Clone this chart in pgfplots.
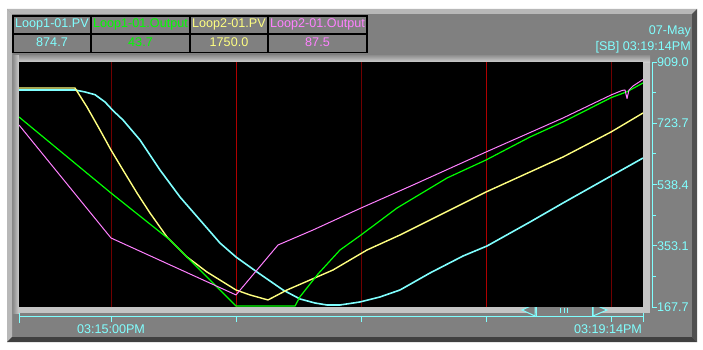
\documentclass[border=0pt]{standalone}
\usepackage{fontspec}
\setmainfont{Liberation Sans}
\usepackage{pgfplots}
\pgfplotsset{compat=1.18}
\definecolor{cy}{HTML}{80FFFF}
\definecolor{gr}{HTML}{00FF00}
\definecolor{ye}{HTML}{FFFF80}
\definecolor{mg}{HTML}{FF80FF}
\definecolor{pan}{HTML}{808080}
\definecolor{lite}{HTML}{B8B8B8}
\definecolor{lite2}{HTML}{C4C4C4}
\definecolor{dark}{HTML}{404040}
\definecolor{dark2}{HTML}{505050}
\definecolor{gridd}{HTML}{700000}
\definecolor{gridr}{HTML}{B00000}
\begin{document}
\begin{tikzpicture}[x=1pt,y=1pt]
\useasboundingbox (0,0) rectangle (703,349);
\fill[white] (0,0) rectangle (703,349);
\begin{scope}[yshift=349pt,yscale=-1]
  % outer panel with bevel
  \fill[pan] (7,9) rectangle (697,342);
  \fill[lite] (7,9) -- (697,9) -- (692,14) -- (12,14) -- cycle;
  \fill[lite] (7,9) -- (12,14) -- (12,337) -- (7,342) -- cycle;
  \fill[dark] (7,342) -- (12,337) -- (692,337) -- (697,342) -- cycle;
  \fill[dark2] (697,9) -- (692,14) -- (692,337) -- (697,342) -- cycle;
  % inner plot frame bevel
  \fill[lite2] (13,55) rectangle (650,313);
  \shade[left color=pan!90!white, right color=lite!70!white] (13,55) rectangle (19,313);
  \shade[top color=pan!90!white, bottom color=lite!70!white] (19,55) rectangle (650,62);
  % table
  \draw[black, line width=1.5pt] (13,16) rectangle (367,52.5);
  \draw[black, line width=1.5pt] (13,34) -- (367,34);
  \foreach \xx in {91,190,268} \draw[black, line width=1.5pt] (\xx,16) -- (\xx,52.5);
  \begin{scope}[every node/.style={font=\fontsize{12.6}{15}\selectfont, inner sep=0pt, anchor=base}]
    \node[text=cy] at (52,28) {Loop1-01.PV};
    \node[text=gr] at (140.5,28) {Loop1-01.Output};
    \node[text=ye] at (229,28) {Loop2-01.PV};
    \node[text=mg] at (317.5,28) {Loop2-01.Output};
    \node[text=cy] at (52,46) {874.7};
    \node[text=gr] at (140.5,46) {43.7};
    \node[text=ye] at (229,46) {1750.0};
    \node[text=mg] at (317.5,46) {87.5};
    \node[text=cy, anchor=base east] at (691,35) {07-May};
    \node[text=cy, anchor=base east] at (691,50.5) {[SB] 03:19:14PM};
    \node[text=cy, anchor=base west] at (657,66.5) {909.0};
    \node[text=cy, anchor=base west] at (657,127.75) {723.7};
    \node[text=cy, anchor=base west] at (657,189) {538.4};
    \node[text=cy, anchor=base west] at (657,250.25) {353.1};
    \node[text=cy, anchor=base west] at (657,311.5) {167.7};
    \node[text=cy] at (111,333) {03:15:00PM};
    \node[text=cy] at (608,333) {03:19:14PM};
  \end{scope}
  % right axis
  \draw[cy, line width=1pt] (652,62) -- (652,307);
  \foreach \yy in {62,123.25,184.5,245.75,307} \draw[cy, line width=1pt] (652,\yy) -- (657,\yy);
  \foreach \yy in {92.6,153.9,215.1,276.4} \draw[cy, line width=1pt] (652,\yy) -- (655.5,\yy);
  % bottom time axis
  \draw[cy, line width=1pt] (19,316) -- (643,316);
  \foreach \xx in {111,236,361,486,611} \draw[cy, line width=1pt] (\xx,316) -- (\xx,321.5);
  \draw[cy, line width=1pt] (19,313) -- (19,323);
  \draw[cy, line width=1pt] (643,313) -- (643,322);
  % scroll widget
  \filldraw[fill=pan, draw=cy, line width=1pt] (535,304) -- (522,310) -- (535,316) -- cycle;
  \filldraw[fill=pan, draw=cy, line width=1pt] (593,304) -- (607,310) -- (593,316) -- cycle;
  \filldraw[fill=pan, draw=cy, line width=1pt] (536,304) rectangle (592,316);
  \foreach \xx in {560.5,564,567.5} \draw[cy, line width=1pt] (\xx,307.5) -- (\xx,312.5);
\end{scope}
\begin{axis}[
  at={(19pt,42pt)}, anchor=south west, scale only axis,
  width=624pt, height=245pt,
  xmin=19, xmax=643, ymin=167.7, ymax=909,
  axis line style={draw=none},
  axis background/.style={fill=black},
  xtick={111,361,611}, xticklabels={}, ytick=\empty,
  major tick length=0pt,
  xmajorgrids, grid style={draw=gridd, line width=1pt},
  extra x ticks={236,486}, extra x tick labels={},
  extra x tick style={grid style={draw=gridr, line width=1pt}},
  every axis plot/.append style={line join=round, mark=none},
]
\addplot[cy, line width=1.6pt] coordinates {
(19,824.3)(75,824.3)(85,818.3)(95,810.1)(105,788.0)(113,762.0)(123,733.5)(140,673.0)(160,582.2)
(180,500.5)(200,430.9)(220,361.3)(236,319.0)(257,273.6)(283,219.2)(300,192.0)
(315,179.8)(327,173.8)(340,173.8)(360,182.9)(380,198.1)(400,219.2)(430,270.6)
(463,322.0)(487,352.3)(530,424.9)(563,482.4)(611,564.1)(643,618.5)};
\addplot[ye, line width=1.4pt] coordinates {
(19,830.3)(75,830.3)(87,772.8)(100,703.3)(111,642.7)(123,582.2)(137,512.6)(150,452.1)
(167,379.5)(187,319.0)(207,273.6)(236,219.2)(250,204.2)(268,189.0)(287,219.2)
(310,249.4)(333,279.7)(367,340.2)(400,385.6)(486,515.7)(563,621.6)(611,697.2)(643,754.7)};
\addplot[gr, line width=1.2pt] coordinates {
(19,742.6)(111,512.6)(170,370.4)(213,240.3)(236,170.5)(295,170.5)(300,198.9)
(318,267.6)(340,340.2)(361,385.6)(397,467.2)(447,558.0)(486,612.5)(530,682.1)
(563,727.5)(611,801.0)(627,819.1)(643,845.5)};
\addplot[mg, line width=1.0pt] coordinates {
(19,718.4)(111,376.5)(236,204.2)(278,355.3)(313,400.7)(361,467.2)(413,536.8)
(486,636.7)(563,739.6)(611,809.2)(622,822.8)(625,824.3)(627,798.6)(629,824.3)
(633,836.4)(643,856.0)};
\end{axis}
\end{tikzpicture}
\end{document}
